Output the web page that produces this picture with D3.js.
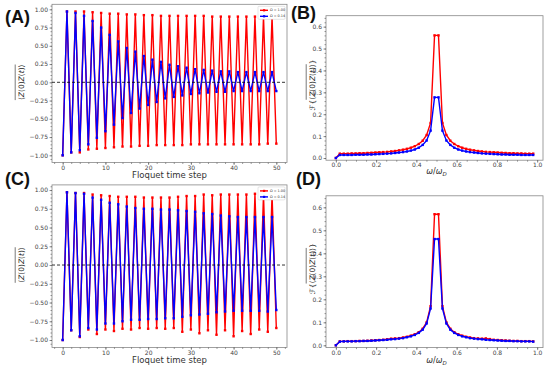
<!DOCTYPE html>
<html>
<head>
<meta charset="utf-8">
<script src="https://cdn.jsdelivr.net/npm/d3@7"></script>
<style>
  body { margin: 0; background: #fff; }
  svg { display: block; }
  text { font-family: "DejaVu Sans", sans-serif; }
</style>
</head>
<body>
<div id="chart"></div>
<script>
// ── Data ─────────────────────────────────────────────────────────
const steps = d3.range(0, 51);               // Floquet time step 0..50
const freqs = d3.range(0, 51).map(k => k / 51); // omega / omega_D

const legendLabels = ["Ω = 1.00", "Ω = 0.14"];

// Panel A : correlator, red (1.00) and blue (0.14)
const aRed = [-1.00, 0.97, -0.96, 0.97, -0.96, 0.97, -0.92, 0.96, -0.91, 0.95,
  -0.90, 0.94, -0.89, 0.94, -0.88, 0.93, -0.88, 0.93, -0.87, 0.92,
  -0.87, 0.92, -0.86, 0.91, -0.86, 0.91, -0.86, 0.91, -0.86, 0.91,
  -0.85, 0.91, -0.85, 0.91, -0.85, 0.90, -0.85, 0.90, -0.85, 0.90,
  -0.85, 0.90, -0.85, 0.90, -0.85, 0.90, -0.85, 0.90, -0.84, 0.90, -0.84];
const aBlue = [-1.00, 0.97, -0.96, 0.95, -0.93, 0.91, -0.85, 0.84, -0.76, 0.75,
  -0.67, 0.65, -0.58, 0.56, -0.49, 0.47, -0.42, 0.42, -0.36, 0.36,
  -0.31, 0.31, -0.27, 0.28, -0.22, 0.24, -0.20, 0.22, -0.18, 0.20,
  -0.16, 0.18, -0.15, 0.17, -0.14, 0.16, -0.13, 0.15, -0.13, 0.15,
  -0.12, 0.14, -0.12, 0.14, -0.12, 0.14, -0.12, 0.14, -0.12, 0.14, -0.12];

// Panel C
const cRed = [-1.00, 0.97, -0.87, 0.96, -0.96, 0.96, -0.86, 0.94, -0.92, 0.93,
  -0.86, 0.92, -0.88, 0.91, -0.85, 0.91, -0.86, 0.91, -0.84, 0.90,
  -0.85, 0.90, -0.84, 0.90, -0.85, 0.90, -0.84, 0.91, -0.89, 0.92,
  -0.86, 0.92, -0.91, 0.94, -0.87, 0.93, -0.93, 0.94, -0.87, 0.94,
  -0.95, 0.94, -0.88, 0.94, -0.92, 0.95, -0.86, 0.94, -0.89, 0.94, -0.84];
const cBlue = [-1.00, 0.97, -0.87, 0.96, -0.95, 0.95, -0.84, 0.90, -0.86, 0.87,
  -0.78, 0.83, -0.78, 0.81, -0.75, 0.78, -0.73, 0.76, -0.73, 0.75,
  -0.72, 0.75, -0.72, 0.74, -0.71, 0.74, -0.71, 0.73, -0.69, 0.72,
  -0.67, 0.71, -0.66, 0.69, -0.65, 0.68, -0.63, 0.66, -0.62, 0.65,
  -0.61, 0.64, -0.61, 0.64, -0.61, 0.64, -0.61, 0.64, -0.62, 0.64, -0.60];

// Panel B : Fourier spectrum
const bRed = [0.000, 0.020, 0.020, 0.020, 0.021, 0.021, 0.022, 0.022, 0.023, 0.024,
  0.025, 0.026, 0.027, 0.028, 0.030, 0.032, 0.035, 0.038, 0.042, 0.047,
  0.054, 0.064, 0.079, 0.105, 0.160, 0.560, 0.560, 0.160, 0.105, 0.079,
  0.064, 0.054, 0.047, 0.042, 0.038, 0.035, 0.032, 0.030, 0.028, 0.027,
  0.026, 0.025, 0.024, 0.023, 0.022, 0.022, 0.021, 0.021, 0.020, 0.020, 0.020];
const bBlue = [0.000, 0.014, 0.014, 0.014, 0.014, 0.015, 0.015, 0.015, 0.016, 0.016,
  0.017, 0.018, 0.019, 0.020, 0.021, 0.023, 0.025, 0.027, 0.030, 0.034,
  0.039, 0.047, 0.060, 0.080, 0.125, 0.277, 0.277, 0.125, 0.080, 0.060,
  0.047, 0.039, 0.034, 0.030, 0.027, 0.025, 0.023, 0.021, 0.020, 0.019,
  0.018, 0.017, 0.016, 0.016, 0.015, 0.015, 0.015, 0.014, 0.014, 0.014, 0.014];

// Panel D
const dRed = [0.000, 0.017, 0.017, 0.018, 0.018, 0.018, 0.019, 0.019, 0.020, 0.021,
  0.022, 0.023, 0.024, 0.026, 0.029, 0.030, 0.031, 0.034, 0.037, 0.042,
  0.048, 0.057, 0.072, 0.100, 0.170, 0.570, 0.570, 0.170, 0.100, 0.072,
  0.057, 0.048, 0.042, 0.037, 0.034, 0.031, 0.030, 0.029, 0.030, 0.027,
  0.024, 0.023, 0.022, 0.021, 0.020, 0.019, 0.019, 0.018, 0.018, 0.018, 0.017];
const dBlue = [0.000, 0.016, 0.017, 0.017, 0.017, 0.018, 0.018, 0.019, 0.019, 0.020,
  0.021, 0.022, 0.023, 0.024, 0.026, 0.027, 0.029, 0.031, 0.035, 0.039,
  0.045, 0.054, 0.068, 0.095, 0.160, 0.462, 0.462, 0.160, 0.095, 0.068,
  0.054, 0.045, 0.039, 0.035, 0.031, 0.029, 0.027, 0.026, 0.024, 0.023,
  0.022, 0.021, 0.020, 0.019, 0.019, 0.018, 0.018, 0.017, 0.017, 0.017, 0.016];

// Tick values
const corrTicks = [-1.00, -0.75, -0.50, -0.25, 0.00, 0.25, 0.50, 0.75, 1.00];
const stepTicks = [0, 10, 20, 30, 40, 50];
const freqTicks = [0.0, 0.2, 0.4, 0.6, 0.8, 1.0];
const specTicks = [0.0, 0.1, 0.2, 0.3, 0.4, 0.5, 0.6];

// ── Setup ────────────────────────────────────────────────────────
const W = 550, H = 367;
const RED = "#ff0000", BLUE = "#0000ff";
const SPINE = "#888";

const svg = d3.select("#chart").append("svg")
  .attr("width", W).attr("height", H);

function minorTicks(lo, hi, step) {
  const out = [];
  for (let v = Math.ceil(lo / step - 1e-9) * step; v <= hi + 1e-9; v += step) out.push(+v.toFixed(6));
  return out;
}

function drawAxes(g, x, y, iW, iH, o) {
  // frame
  g.append("rect").attr("width", iW).attr("height", iH)
    .attr("fill", "none").attr("stroke", SPINE).attr("stroke-width", 0.8);

  const xd = x.domain(), yd = y.domain();
  const xMin = g.append("g").attr("transform", `translate(0,${iH})`)
    .call(d3.axisBottom(x).tickValues(minorTicks(xd[0], xd[1], o.xMinor)).tickSize(1.5).tickFormat(""));
  const yMin = g.append("g")
    .call(d3.axisLeft(y).tickValues(minorTicks(yd[0], yd[1], o.yMinor)).tickSize(1.5).tickFormat(""));
  const xA = g.append("g").attr("transform", `translate(0,${iH})`)
    .call(d3.axisBottom(x).tickValues(o.xTicks).tickSize(2.5).tickPadding(0.5).tickFormat(d3.format(o.xFmt)));
  const yA = g.append("g")
    .call(d3.axisLeft(y).tickValues(o.yTicks).tickSize(2.5).tickPadding(1.5).tickFormat(d3.format(o.yFmt)));

  [xMin, yMin, xA, yA].forEach(a => {
    a.select(".domain").remove();
    a.selectAll("line").attr("stroke", "#555").attr("stroke-width", 0.6);
    a.selectAll("text").attr("fill", "#444").style("font-size", "6px")
      .style("font-family", "DejaVu Sans");
  });
}

function drawSeries(g, x, y, xs, vals, color) {
  const pts = xs.map((t, i) => [t, vals[i]]);
  g.append("path").datum(pts)
    .attr("fill", "none").attr("stroke", color).attr("stroke-width", 1.4)
    .attr("d", d3.line().x(d => x(d[0])).y(d => y(d[1])));
  g.append("g").selectAll("rect").data(pts).join("rect")
    .attr("x", d => x(d[0]) - 1.2).attr("y", d => y(d[1]) - 1.2)
    .attr("width", 2.4).attr("height", 2.4).attr("fill", color);
}

function corrLabel(g, cx, cy) {
  const t = g.append("g").attr("transform", `translate(${cx},${cy}) rotate(-90)`);
  const txt = t.append("text").attr("text-anchor", "middle").attr("y", 2.5)
    .style("font-size", "7.5px").attr("fill", "#222");
  txt.append("tspan").text("⟨");
  txt.append("tspan").style("font-style", "italic").text("Z");
  txt.append("tspan").text("(0)");
  txt.append("tspan").style("font-style", "italic").text("Z");
  txt.append("tspan").text("(");
  txt.append("tspan").style("font-style", "italic").text("t");
  txt.append("tspan").text(")⟩");
  const len = txt.node().getComputedTextLength();
  t.append("line").attr("x1", -len / 2).attr("x2", len / 2)
    .attr("y1", -5.8).attr("y2", -5.8).attr("stroke", "#222").attr("stroke-width", 0.6);
}

function specLabel(g, cx, cy) {
  const t = g.append("g").attr("transform", `translate(${cx},${cy}) rotate(-90)`);
  const txt = t.append("text").attr("text-anchor", "middle").attr("y", 2.5)
    .style("font-size", "7.5px").attr("fill", "#222");
  txt.append("tspan").style("font-style", "italic").text("ℱ");
  txt.append("tspan").text("{⟨");
  txt.append("tspan").style("font-style", "italic").text("Z");
  txt.append("tspan").text("(0)");
  txt.append("tspan").style("font-style", "italic").text("Z");
  txt.append("tspan").text("(");
  txt.append("tspan").style("font-style", "italic").text("t");
  txt.append("tspan").text(")⟩}");
  const node = txt.node();
  const n = node.getNumberOfChars();
  const x0 = node.getStartPositionOfChar(2).x;
  const x1 = node.getEndPositionOfChar(n - 2).x;
  t.append("line").attr("x1", x0).attr("x2", x1)
    .attr("y1", -5.8).attr("y2", -5.8).attr("stroke", "#222").attr("stroke-width", 0.6);
}

function legend(g, iW) {
  const lg = g.append("g").attr("transform", `translate(${iW - 29},2)`);
  lg.append("rect").attr("width", 27).attr("height", 13).attr("rx", 1)
    .attr("fill", "#fff").attr("stroke", "#ccc").attr("stroke-width", 0.5);
  [RED, BLUE].forEach((c, i) => {
    const yy = 4 + i * 6;
    lg.append("line").attr("x1", 2).attr("x2", 10).attr("y1", yy).attr("y2", yy)
      .attr("stroke", c).attr("stroke-width", 1.4);
    lg.append("rect").attr("x", 5).attr("y", yy - 1.1).attr("width", 2.2).attr("height", 2.2).attr("fill", c);
    lg.append("text").attr("x", 12).attr("y", yy + 1.2).style("font-size", "3.4px")
      .attr("fill", "#333").text(legendLabels[i]);
  });
}

function corrPanel(box, red, blue) {
  const iW = box.right - box.left, iH = box.bottom - box.top;
  const g = svg.append("g").attr("transform", `translate(${box.left},${box.top})`);
  const x = d3.scaleLinear().domain([-2.5, 52.5]).range([0, iW]);
  const y = d3.scaleLinear().domain([-1.0985, 1.0685]).range([iH, 0]);
  drawAxes(g, x, y, iW, iH, { xTicks: stepTicks, yTicks: corrTicks, xFmt: "d", yFmt: ".2f", xMinor: 2, yMinor: 0.05 });
  drawSeries(g, x, y, steps, red, RED);
  drawSeries(g, x, y, steps, blue, BLUE);
  g.append("line").attr("x1", 0).attr("x2", iW).attr("y1", y(0)).attr("y2", y(0))
    .attr("stroke", "#000").attr("stroke-width", 0.8).attr("stroke-dasharray", "3,2");
  legend(g, iW);
  svg.append("text").attr("x", box.left + iW / 2).attr("y", box.xlab)
    .attr("text-anchor", "middle").style("font-size", "8.5px").attr("fill", "#333")
    .text("Floquet time step");
  corrLabel(svg, 21, box.top + y(0));
}

function specPanel(box, red, blue) {
  const iW = box.right - box.left, iH = box.bottom - box.top;
  const g = svg.append("g").attr("transform", `translate(${box.left},${box.top})`);
  const x = d3.scaleLinear().domain([-0.049, 1.029]).range([0, iW]);
  const y = d3.scaleLinear().domain([-0.01, 0.65]).range([iH, 0]);
  drawAxes(g, x, y, iW, iH, { xTicks: freqTicks, yTicks: specTicks, xFmt: ".1f", yFmt: ".1f", xMinor: 0.05, yMinor: 0.02 });
  drawSeries(g, x, y, freqs, red, RED);
  drawSeries(g, x, y, freqs, blue, BLUE);
  const xl = svg.append("text").attr("x", box.left + x(0.5)).attr("y", box.xlab)
    .attr("text-anchor", "middle").style("font-size", "8px").attr("fill", "#333");
  xl.append("tspan").style("font-style", "italic").text("ω");
  xl.append("tspan").text("/");
  xl.append("tspan").style("font-style", "italic").text("ω");
  xl.append("tspan").attr("dy", 1.8).style("font-size", "5.5px").style("font-style", "italic").text("D");
  specLabel(svg, 312, box.top + iH / 2 - 3);
}

function panelTag(x, y, s) {
  svg.append("text").attr("x", x).attr("y", y)
    .style("font-family", "'Liberation Sans', Arial, sans-serif")
    .style("font-weight", "bold").style("font-size", "18px").attr("fill", "#111").text(s);
}

corrPanel({ left: 52, right: 287, top: 4.3, bottom: 162.5, xlab: 178 }, aRed, aBlue);
corrPanel({ left: 52, right: 287, top: 184.9, bottom: 347.4, xlab: 363 }, cRed, cBlue);
specPanel({ left: 326, right: 543, top: 15.7, bottom: 160.2, xlab: 174 }, bRed, bBlue);
specPanel({ left: 326, right: 543, top: 195.8, bottom: 347.6, xlab: 363 }, dRed, dBlue);

panelTag(5, 23, "(A)");
panelTag(291, 19, "(B)");
panelTag(5, 185, "(C)");
panelTag(296, 185, "(D)");
</script>
</body>
</html>
